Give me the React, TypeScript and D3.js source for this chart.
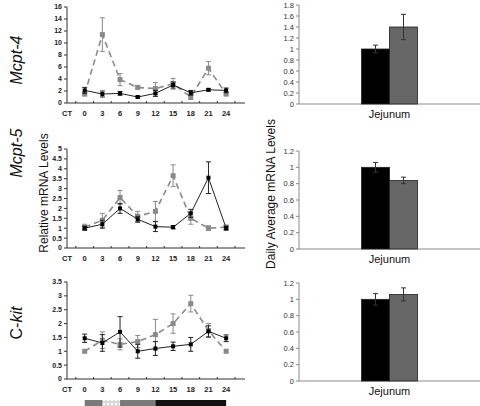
import React from "react";
import * as d3 from "d3";

const times = [0, 3, 6, 9, 12, 15, 18, 21, 24];
const ctLabel = "CT";
const geneNames = ["Mcpt-4", "Mcpt-5", "C-kit"];
const tissue = ["Jejunum"];

const mcpt4Solid = [2.1, 1.5, 1.6, 1.0, 1.6, 3.0, 1.7, 2.2, 2.1];
const mcpt4SolidErr = [0.5, 0.5, 0.3, 0.15, 0.5, 0.5, 0.4, 0.2, 0.4];
const mcpt4Dashed = [1.5, 11.4, 3.9, 2.6, 2.4, 3.2, 1.0, 5.8, 1.5];
const mcpt4DashedErr = [0.3, 2.8, 1.0, 0.2, 1.0, 0.9, 0.4, 1.1, 0.3];

const mcpt5Solid = [1.0, 1.2, 2.0, 1.45, 1.08, 1.05, 1.75, 3.55, 1.0];
const mcpt5SolidErr = [0.1, 0.2, 0.25, 0.15, 0.25, 0.08, 0.2, 0.8, 0.1];
const mcpt5Dashed = [1.05, 1.4, 2.55, 1.6, 1.85, 3.65, 1.5, 1.0, 1.05];
const mcpt5DashedErr = [0.15, 0.35, 0.35, 0.25, 0.5, 0.55, 0.3, 0.12, 0.1];

const ckitSolid = [1.47, 1.3, 1.7, 1.0, 1.1, 1.18, 1.25, 1.72, 1.47];
const ckitSolidErr = [0.15, 0.3, 0.55, 0.25, 0.25, 0.15, 0.25, 0.2, 0.12];
const ckitDashed = [1.0, 1.4, 1.25, 1.35, 1.6, 2.0, 2.72, 1.75, 1.0];
const ckitDashedErr = [0, 0.3, 0.2, 0.22, 0.55, 0.35, 0.3, 0.25, 0];

const mcpt4Avg = [1.0, 1.4];
const mcpt4AvgErr = [0.07, 0.23];
const mcpt5Avg = [1.0, 0.84];
const mcpt5AvgErr = [0.06, 0.04];
const ckitAvg = [1.0, 1.06];
const ckitAvgErr = [0.07, 0.08];

const lightPhase = [0, 12];
const darkPhase = [12, 24];
const checkerPhase = [3, 6];

const FONT = "Arial, 'Liberation Sans', Helvetica, sans-serif";
const GRAY = "#8a8a8a";

type LinePanel = {
  solid: number[]; solidErr: number[]; dashed: number[]; dashedErr: number[];
  yMax: number; yStep: number; yTop: number; yBottom: number;
};

const linePanels: LinePanel[] = [
  { solid: mcpt4Solid, solidErr: mcpt4SolidErr, dashed: mcpt4Dashed, dashedErr: mcpt4DashedErr, yMax: 16, yStep: 2, yTop: 7, yBottom: 103 },
  { solid: mcpt5Solid, solidErr: mcpt5SolidErr, dashed: mcpt5Dashed, dashedErr: mcpt5DashedErr, yMax: 5, yStep: 0.5, yTop: 149, yBottom: 248 },
  { solid: ckitSolid, solidErr: ckitSolidErr, dashed: ckitDashed, dashedErr: ckitDashedErr, yMax: 3.5, yStep: 0.5, yTop: 282, yBottom: 379 },
];

type BarPanel = { vals: number[]; errs: number[]; yMax: number; yTop: number; yBottom: number };
const barPanels: BarPanel[] = [
  { vals: mcpt4Avg, errs: mcpt4AvgErr, yMax: 1.8, yTop: 5, yBottom: 104 },
  { vals: mcpt5Avg, errs: mcpt5AvgErr, yMax: 1.2, yTop: 151, yBottom: 249 },
  { vals: ckitAvg, errs: ckitAvgErr, yMax: 1.2, yTop: 283, yBottom: 381 },
];

const x = d3.scaleLinear().domain([-3, 27.2]).range([67, 245]);
const fmt = (v: number) => String(+v.toFixed(1));

function LineChart({ p }: { p: LinePanel }) {
  const y = d3.scaleLinear().domain([0, p.yMax]).range([p.yBottom, p.yTop]);
  const ticks = d3.range(0, p.yMax + p.yStep / 2, p.yStep);
  const line = d3.line<number>().x((_, i) => x(times[i])).y((d) => y(d));
  const x0 = x.range()[0];
  const x1 = x.range()[1];
  const errBars = (vals: number[], errs: number[], color: string) =>
    vals.map((v, i) => {
      const e = errs[i];
      if (e <= 0) return null;
      const cx = x(times[i]);
      return (
        <g key={i} stroke={color} strokeWidth={1}>
          <line x1={cx} x2={cx} y1={y(v + e)} y2={y(v - e)} />
          <line x1={cx - 2.5} x2={cx + 2.5} y1={y(v + e)} y2={y(v + e)} />
          <line x1={cx - 2.5} x2={cx + 2.5} y1={y(v - e)} y2={y(v - e)} />
        </g>
      );
    });
  const catTicks = d3.range(-1.5, 27, 3);
  return (
    <g>
      {/* axes */}
      <line x1={x0} x2={x0} y1={p.yTop} y2={p.yBottom} stroke="#333" />
      <line x1={x0} x2={x1} y1={p.yBottom} y2={p.yBottom} stroke="#333" />
      {ticks.map((t) => (
        <g key={t}>
          <line x1={x0 - 3} x2={x0} y1={y(t)} y2={y(t)} stroke="#333" />
          <text x={x0 - 5} y={y(t)} dy="0.35em" textAnchor="end" fontSize={7} fontWeight="bold" fill="#222" fontFamily={FONT}>
            {fmt(t)}
          </text>
        </g>
      ))}
      {catTicks.map((t) => (
        <line key={t} x1={x(t)} x2={x(t)} y1={p.yBottom} y2={p.yBottom - 2} stroke="#333" />
      ))}
      <text x={x(-3)} y={p.yBottom + 10} dy="0.35em" textAnchor="middle" fontSize={7.5} fontWeight="bold" fill="#222" fontFamily={FONT}>
        {ctLabel}
      </text>
      {times.map((t) => (
        <text key={t} x={x(t)} y={p.yBottom + 10} dy="0.35em" textAnchor="middle" fontSize={7.5} fontWeight="bold" fill="#222" fontFamily={FONT}>
          {t}
        </text>
      ))}
      {/* dashed series */}
      {errBars(p.dashed, p.dashedErr, GRAY)}
      <path d={line(p.dashed) || ""} fill="none" stroke={GRAY} strokeWidth={1.6} strokeDasharray="6,4" />
      {p.dashed.map((v, i) => (
        <rect key={i} x={x(times[i]) - 2.5} y={y(v) - 2.5} width={5} height={5} fill={GRAY} />
      ))}
      {/* solid series */}
      {errBars(p.solid, p.solidErr, "#222")}
      <path d={line(p.solid) || ""} fill="none" stroke="#222" strokeWidth={1} />
      {p.solid.map((v, i) => (
        <rect key={i} x={x(times[i]) - 2} y={y(v) - 2} width={4} height={4} fill="#000" />
      ))}
    </g>
  );
}

function BarChart({ p }: { p: BarPanel }) {
  const xb = d3.scaleBand().domain(tissue).range([299, 480]);
  const y = d3.scaleLinear().domain([0, p.yMax]).range([p.yBottom, p.yTop]);
  const ticks = d3.range(0, p.yMax + 0.1, 0.2);
  const cx = (xb(tissue[0]) || 0) + xb.bandwidth() / 2;
  const bw = 28;
  const colors = ["#000", "#666"];
  return (
    <g>
      <line x1={299} x2={299} y1={p.yTop} y2={p.yBottom} stroke={GRAY} />
      <line x1={299} x2={480} y1={p.yBottom} y2={p.yBottom} stroke={GRAY} />
      {ticks.map((t) => (
        <g key={t}>
          <line x1={296} x2={299} y1={y(t)} y2={y(t)} stroke={GRAY} />
          <text x={294} y={y(t)} dy="0.35em" textAnchor="end" fontSize={7.5} fill="#333" fontFamily={FONT}>
            {fmt(t)}
          </text>
        </g>
      ))}
      {p.vals.map((v, i) => {
        const bx = cx - bw + i * bw;
        const e = p.errs[i];
        const mx = bx + bw / 2;
        return (
          <g key={i}>
            <rect x={bx} y={y(v)} width={bw} height={y(0) - y(v)} fill={colors[i]} stroke="#222" strokeWidth={0.8} />
            <g stroke="#333" strokeWidth={1}>
              <line x1={mx} x2={mx} y1={y(v + e)} y2={y(v - e)} />
              <line x1={mx - 2.5} x2={mx + 2.5} y1={y(v + e)} y2={y(v + e)} />
              <line x1={mx - 2.5} x2={mx + 2.5} y1={y(v - e)} y2={y(v - e)} />
            </g>
          </g>
        );
      })}
      <text x={cx} y={p.yBottom + 10} dy="0.35em" textAnchor="middle" fontSize={11} fill="#111" fontFamily={FONT}>
        {tissue[0]}
      </text>
    </g>
  );
}

function Timeline() {
  const yb = 400;
  const h = 7;
  return (
    <g>
      <defs>
        <pattern id="checker" width={4} height={4} patternUnits="userSpaceOnUse">
          <rect width={4} height={4} fill="#ffffff" />
          <circle cx={2} cy={2} r={1.3} fill="none" stroke="#999" strokeWidth={0.6} />
        </pattern>
      </defs>
      <rect x={x(lightPhase[0])} y={yb} width={x(lightPhase[1]) - x(lightPhase[0])} height={h} fill="#7a7a7a" />
      <rect x={x(checkerPhase[0])} y={yb} width={x(checkerPhase[1]) - x(checkerPhase[0])} height={h} fill="url(#checker)" />
      <rect x={x(darkPhase[0])} y={yb} width={x(darkPhase[1]) - x(darkPhase[0])} height={h} fill="#111" />
    </g>
  );
}

const geneLabelPos = [60, 153, 323];

export default function App() {
  return (
    <svg width={480} height={406} style={{ position: "absolute", left: 0, top: 0, background: "#fff" }}>
      {linePanels.map((p, i) => (
        <LineChart key={i} p={p} />
      ))}
      {barPanels.map((p, i) => (
        <BarChart key={i} p={p} />
      ))}
      <Timeline />
      {geneNames.map((g, i) => (
        <text key={g} transform={`translate(22,${geneLabelPos[i]}) rotate(-90)`} textAnchor="middle" fontSize={16} fontFamily={FONT} fill="#111"
          fontStyle={g === "C-kit" ? undefined : "italic"}>
          {g === "C-kit" ? (
            <>
              <tspan>C-</tspan>
              <tspan fontStyle="italic">kit</tspan>
            </>
          ) : g}
        </text>
      ))}
      <text transform="translate(48,193) rotate(-90)" textAnchor="middle" fontSize={12} fontFamily={FONT} fill="#111">
        Relative mRNA Levels
      </text>
      <text transform="translate(275,194) rotate(-90)" textAnchor="middle" fontSize={12} fontFamily={FONT} fill="#111">
        Daily Average mRNA Levels
      </text>
    </svg>
  );
}
